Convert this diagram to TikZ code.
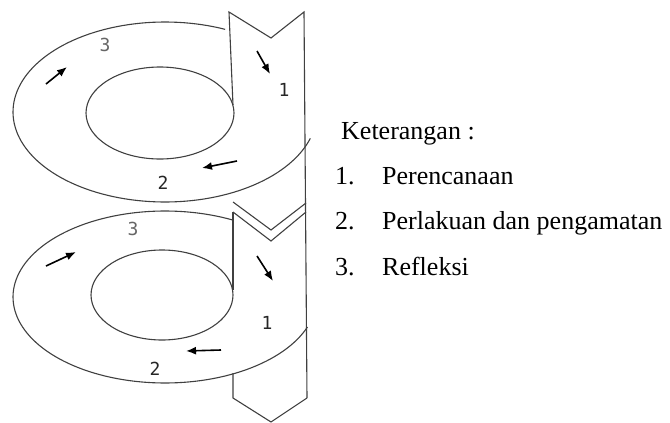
\documentclass[tikz,border=0pt]{standalone}
\usepackage{fontspec}
\setmainfont{Liberation Serif}
\newfontfamily\digitfont{DejaVu Sans Mono}
\usetikzlibrary{arrows.meta}
\tikzset{
  outline/.style={draw=black!75, line width=1.1pt, line join=miter},
  flow/.style={draw=black, line width=1.6pt, -{Latex[length=10pt,width=8pt]}},
  digit/.style={font=\digitfont\fontsize{18}{20}\selectfont, text=black!85, inner sep=0pt},
  legend/.style={font=\fontsize{26}{30}\selectfont, anchor=base west, inner sep=0pt},
}
\begin{document}
\begin{tikzpicture}[x=1pt,y=-1pt]
\useasboundingbox (0,0) rectangle (670,423);
% ---------- top spiral ----------
\draw[outline] plot[domain=17:293.3, samples=120] ({165+152*cos(\x)},{112+90*sin(\x)});
\draw[outline] (160,113) ellipse [x radius=74, y radius=46];
% strip (top part) with chevron
\coordinate (t1) at (229,12);
\coordinate (t2) at (271,38);
\coordinate (t3) at (304,12);
\coordinate (tl) at (233,105);
\draw[outline] (tl) -- (t1) -- (t2) -- (t3) -- (307,398);
% ---------- double chevron between ----------
\coordinate (u1) at (233,202);
\coordinate (u2) at (271,230);
\coordinate (u3) at (306,203);
\coordinate (v1) at (233,212);
\coordinate (v2) at (271,241);
\coordinate (v3) at (306,212);
\draw[outline] (u1) -- (u2) -- (u3);
\draw[outline] (v1) -- (v2) -- (v3);
% ---------- bottom spiral ----------
\draw[outline] plot[domain=20.4:296.4, samples=120] ({165+152*cos(\x)},{297+86*sin(\x)});
\draw[outline] (162,295) ellipse [x radius=71, y radius=45];
\coordinate (bl) at (233,290);
\draw[outline] (v1) -- (bl);
\coordinate (b0) at (233,373);
\coordinate (b1) at (233,398);
\coordinate (b2) at (271,422);
\coordinate (b3) at (307,398);
\draw[outline] (b0) -- (b1) -- (b2) -- (b3);
% ---------- arrows top ----------
\coordinate (a3s) at (46,84);  \coordinate (a3e) at (67,67);
\coordinate (a1s) at (257,51); \coordinate (a1e) at (270,74);
\coordinate (a2s) at (237,161); \coordinate (a2e) at (202,168);
\draw[flow] (a3s) -- (a3e);
\draw[flow] (a1s) -- (a1e);
\draw[flow] (a2s) -- (a2e);
% ---------- arrows bottom ----------
\coordinate (c3s) at (46,266);  \coordinate (c3e) at (76,252);
\coordinate (c1s) at (257,256); \coordinate (c1e) at (273,281);
\coordinate (c2s) at (221,350); \coordinate (c2e) at (186,351);
\draw[flow] (c3s) -- (c3e);
\draw[flow] (c1s) -- (c1e);
\draw[flow] (c2s) -- (c2e);
% ---------- digit labels ----------
\node[digit, text=black!60] (n3t) at (105,45) {3};
\node[digit] (n1t) at (284,90) {1};
\node[digit] (n2t) at (163,183) {2};
\node[digit, text=black!60] (n3b) at (133,229) {3};
\node[digit] (n1b) at (267,323) {1};
\node[digit] (n2b) at (155,369) {2};
% ---------- legend ----------
\node[legend] (ket) at (341,139) {Keterangan :};
\node[legend] (l1n) at (335,184) {1.};
\node[legend] (l1) at (382,184) {Perencanaan};
\node[legend] (l2n) at (335,229) {2.};
\node[legend] (l2) at (382,229) {Perlakuan dan pengamatan};
\node[legend] (l3n) at (335,275) {3.};
\node[legend] (l3) at (382,275) {Refleksi};
\end{tikzpicture}
\end{document}
